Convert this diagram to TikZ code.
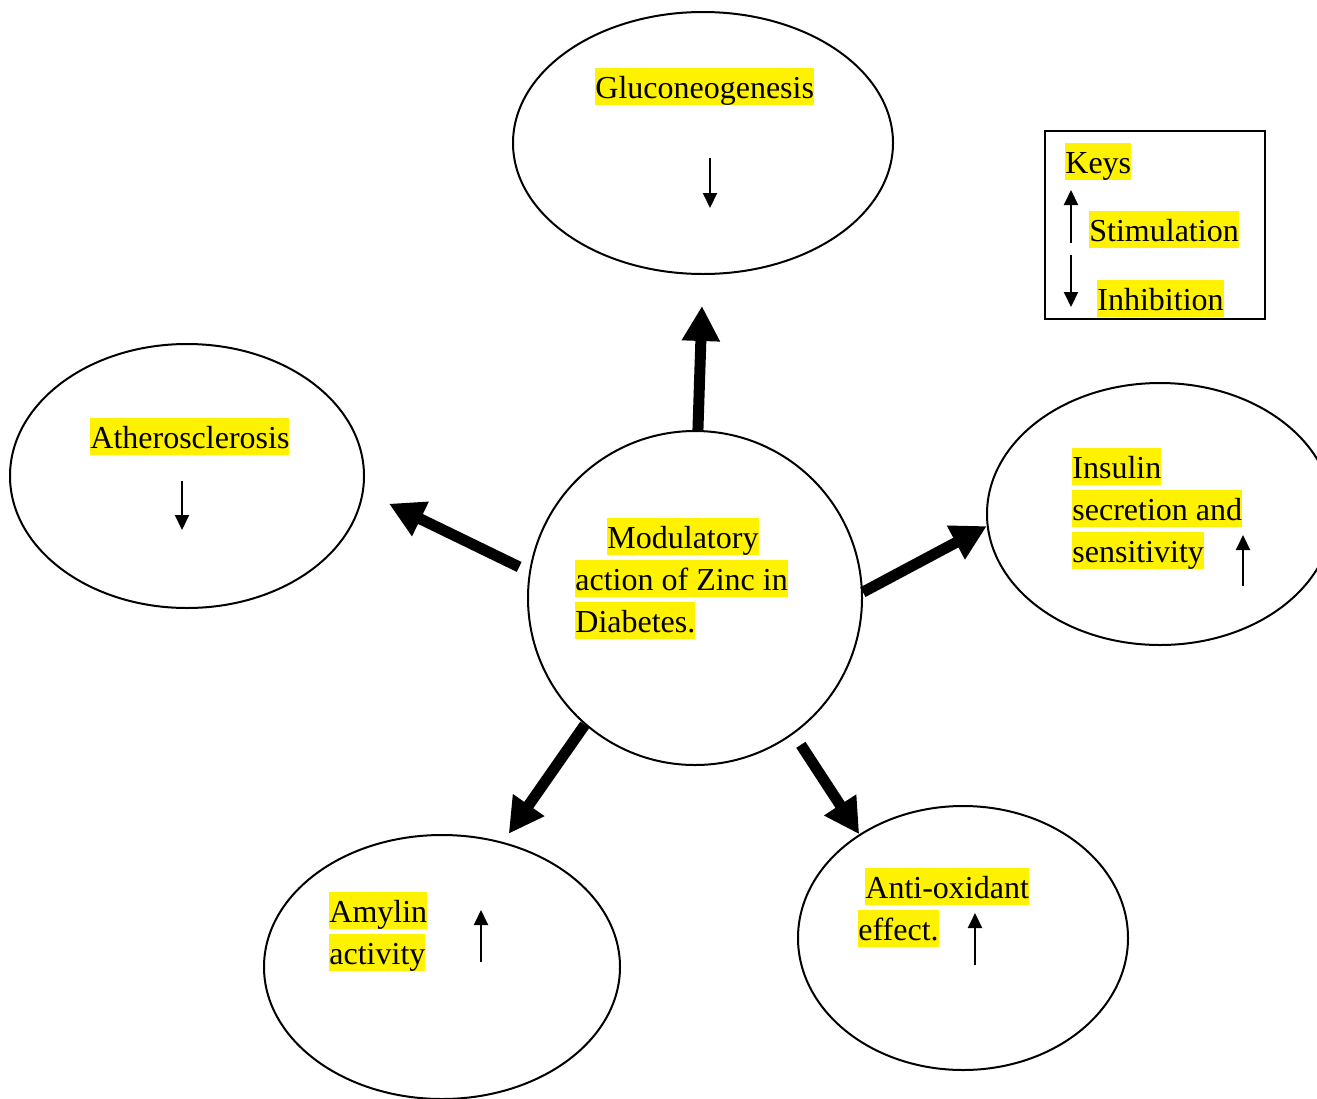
\documentclass[tikz,border=0pt]{standalone}
\usepackage{fontspec}
\setmainfont{Liberation Serif}
\usetikzlibrary{shapes.geometric,arrows.meta}
\setlength{\fboxsep}{0pt}
\newcommand{\hlite}[1]{\colorbox{yellow}{\rule[-3.5pt]{0pt}{18.5pt}#1}}
\tikzset{
  bubble/.style={ellipse, draw, line width=1pt, inner sep=0pt},
  txt/.style={anchor=north west, inner sep=0pt, align=left, font=\fontsize{16}{21}\selectfont},
  bigarrow/.style={line width=5.5pt, -{Triangle[length=17.5pt,width=18pt]}},
  smallarrow/.style={line width=1pt, -{Triangle[length=7.5pt,width=7pt]}},
}
\begin{document}
\begin{tikzpicture}[x=0.5pt,y=-0.5pt]
\useasboundingbox (0,0) rectangle (1317,1098);
\clip (0,0) rectangle (1317,1098);

%Bubbles
\node[bubble, circle, minimum size=167pt] (ctr) at (695,598) {};
\node[bubble, minimum width=190pt, minimum height=131pt] (glu) at (703,143) {};
\node[bubble, minimum width=177pt, minimum height=132pt] (ath) at (187,476) {};
\node[bubble, minimum width=173pt, minimum height=131pt] (ins) at (1160,514) {};
\node[bubble, minimum width=178pt, minimum height=132pt] (amy) at (442,967) {};
\node[bubble, minimum width=165pt, minimum height=132pt] (anti) at (963,938) {};

%Keys box
\node[draw, line width=1pt, minimum width=110pt, minimum height=94pt, inner sep=0pt] (keybox) at (1155,225) {};

%Texts
\node[txt] (glutxt) at (595,68) {\hlite{Gluconeogenesis}};
\node[txt] (athtxt) at (90,418) {\hlite{Atherosclerosis}};
\node[txt] (instxt) at (1072,448) {\hlite{Insulin}\\\hlite{secretion and}\\\hlite{sensitivity}};
\node[txt] (ctrtxt) at (575,518) {\hspace*{16pt}\hlite{Modulatory}\\\hlite{action of Zinc in}\\\hlite{Diabetes.}};
\node[txt] (amytxt) at (329,892) {\hlite{Amylin}\\\hlite{activity}};
\node[txt] (antitxt) at (858,868) {\hspace*{3.5pt}\hlite{Anti-oxidant}\\\hlite{effect.}};
\node[txt] (keystxt) at (1065,143) {\hlite{Keys}};
\node[txt] (stimtxt) at (1089,211) {\hlite{Stimulation}};
\node[txt] (inhtxt) at (1097,280) {\hlite{Inhibition}};

%Big arrows
\draw[bigarrow, shorten >=15.5pt] (ctr.89) -- (glu.-90);
\draw[bigarrow, shorten <=5.5pt, shorten >=14pt] (ctr.171) -- (ath.-5);
\draw[bigarrow] (ctr.2) -- (ins.184);
\draw[bigarrow, shorten >=5pt] (ctr.229) -- (amy.64);
\draw[bigarrow, shorten <=6.5pt] (ctr.-54) -- (anti.135);

%Small arrows
\draw[smallarrow] (710,158) -- (710,208);
\draw[smallarrow] (182,481) -- (182,530);
\draw[smallarrow] (1243,586) -- (1243,535);
\draw[smallarrow] (481,962) -- (481,910);
\draw[smallarrow] (975,965) -- (975,913);
\draw[smallarrow] (1071,243) -- (1071,190);
\draw[smallarrow] (1071,255) -- (1071,307);
\end{tikzpicture}
\end{document}
